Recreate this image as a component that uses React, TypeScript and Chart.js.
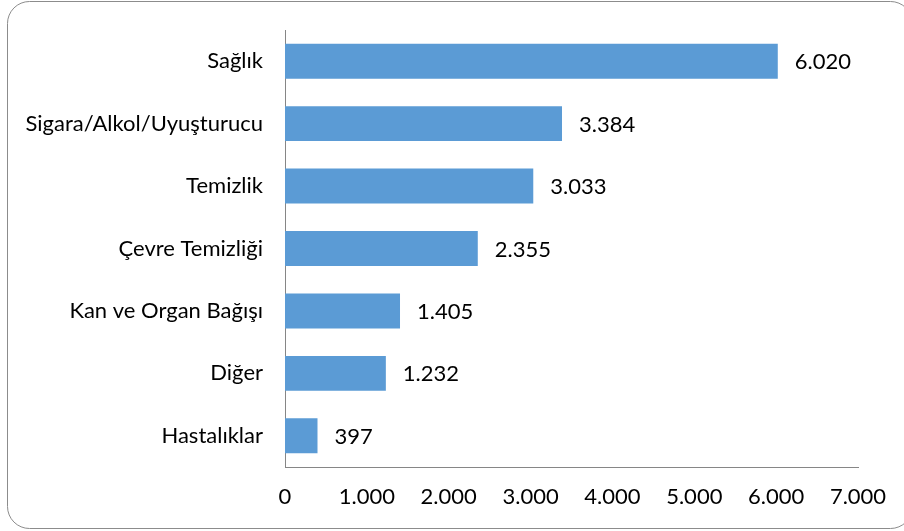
import React, { useEffect, useRef } from "react";
import { Chart, registerables } from "chart.js";

Chart.register(...registerables);

const categories = [
  "Sağlık",
  "Sigara/Alkol/Uyuşturucu",
  "Temizlik",
  "Çevre Temizliği",
  "Kan ve Organ Bağışı",
  "Diğer",
  "Hastalıklar",
];
const values = [6020, 3384, 3033, 2355, 1405, 1232, 397];
const xMin = 0;
const xMax = 7000;
const xStep = 1000;

const FONT = "Lato";
const FONT_SIZE = 22;

function fmt(v: number): string {
  return Math.round(v)
    .toString()
    .replace(/\B(?=(\d{3})+(?!\d))/g, ".");
}

const framePlugin = {
  id: "frame",
  beforeDraw(chart: any) {
    const ctx = chart.ctx;
    ctx.save();
    ctx.fillStyle = "#ffffff";
    ctx.fillRect(0, 0, chart.width, chart.height);
    ctx.beginPath();
    ctx.roundRect(7.5, 1.5, 905, 527, 22);
    ctx.strokeStyle = "#8c8c8c";
    ctx.lineWidth = 1;
    ctx.stroke();
    ctx.restore();
  },
};

const labelPlugin = {
  id: "barLabels",
  afterDatasetsDraw(chart: any) {
    const ctx = chart.ctx;
    const meta = chart.getDatasetMeta(0);
    ctx.save();
    ctx.font = `${FONT_SIZE}px ${FONT}`;
    ctx.fillStyle = "#000000";
    ctx.textAlign = "left";
    ctx.textBaseline = "middle";
    meta.data.forEach((bar: any, i: number) => {
      ctx.fillText(fmt(values[i]), bar.x + 17, bar.y + 1);
    });
    ctx.restore();
  },
};

export default function App() {
  const ref = useRef<HTMLCanvasElement>(null);
  useEffect(() => {
    document.body.style.margin = "0";
    const chart = new Chart(ref.current!, {
      type: "bar",
      data: {
        labels: categories,
        datasets: [
          {
            data: values,
            backgroundColor: "#5b9bd5",
            borderWidth: 0,
            barPercentage: 0.56,
            categoryPercentage: 1,
          },
        ],
      },
      options: {
        indexAxis: "y",
        animation: false,
        responsive: false,
        layout: { padding: { top: 30, right: 46, left: 0, bottom: 0 } },
        plugins: {
          legend: { display: false },
          tooltip: { enabled: false },
        },
        scales: {
          x: {
            min: xMin,
            max: xMax,
            grid: { display: false, drawTicks: false },
            border: { display: true, color: "#868686", width: 1 },
            ticks: {
              stepSize: xStep,
              padding: 17,
              color: "#000000",
              font: { family: FONT, size: FONT_SIZE },
              callback: (v: any) => fmt(Number(v)),
              maxRotation: 0,
            },
            afterFit: (s: any) => {
              s.height = 64;
            },
          },
          y: {
            grid: { display: false, drawTicks: false },
            border: { display: true, color: "#868686", width: 1 },
            ticks: {
              padding: 22,
              color: "#000000",
              font: { family: FONT, size: FONT_SIZE },
            },
            afterFit: (s: any) => {
              s.width = 285;
              s.paddingTop = 0;
              s.paddingBottom = 0;
            },
          },
        },
      },
      plugins: [framePlugin, labelPlugin],
    });
    return () => chart.destroy();
  }, []);
  return <canvas ref={ref} width={904} height={531} style={{ display: "block" }} />;
}
